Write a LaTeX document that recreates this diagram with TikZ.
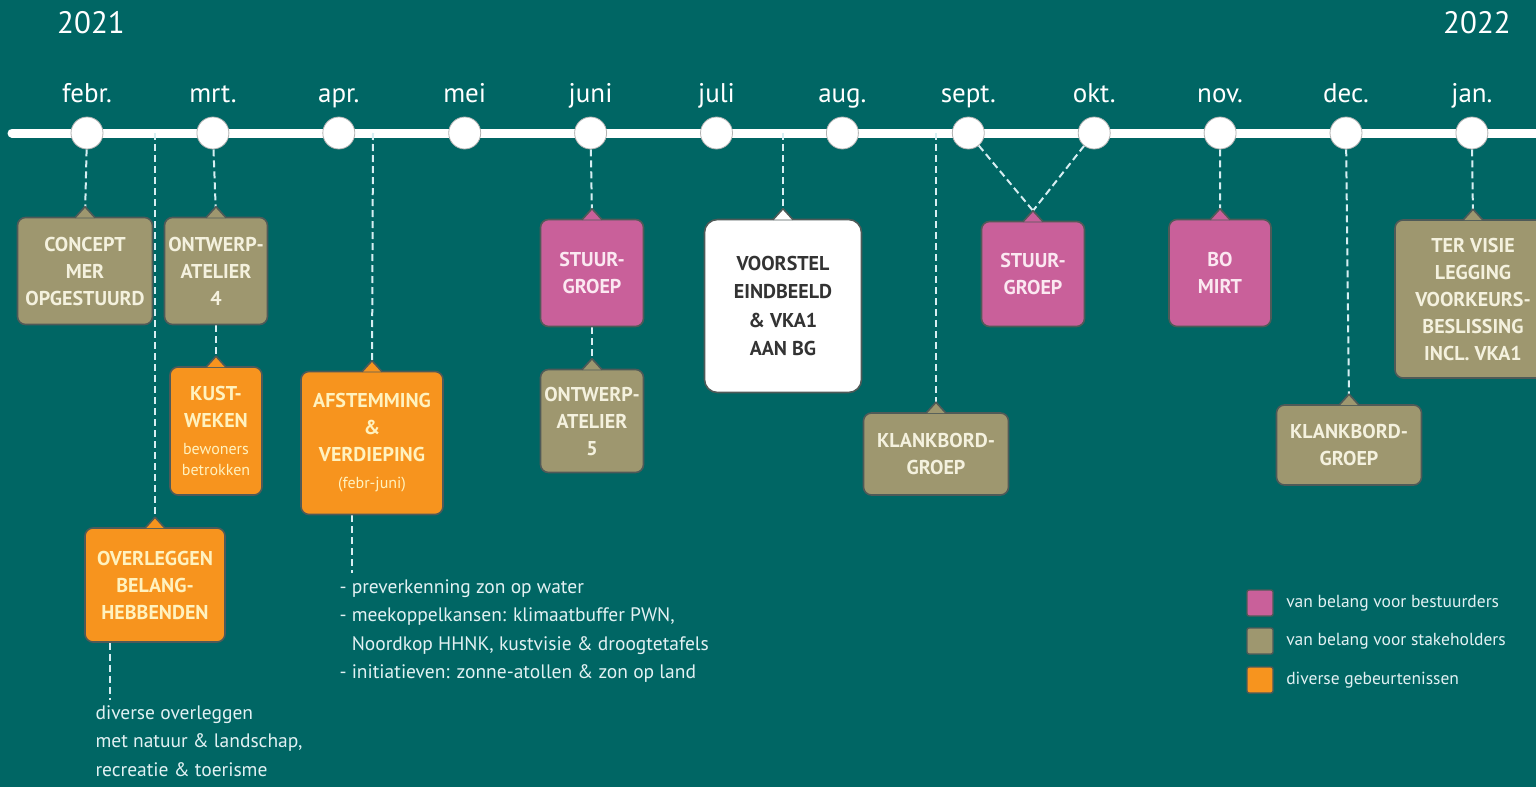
\documentclass[tikz,border=0pt]{standalone}
\usepackage{fontspec}
\setmainfont{PT Sans}
\usetikzlibrary{positioning,calc,backgrounds}
\definecolor{zeeteal}{HTML}{006664}
\definecolor{olijf}{HTML}{9E976F}
\definecolor{roze}{HTML}{C9609A}
\definecolor{oranje}{HTML}{F7941E}
\definecolor{vakrand}{HTML}{4F5A58}
\definecolor{streep}{HTML}{D6EEF2}
\definecolor{lichttekst}{HTML}{F4F1DE}
\definecolor{rozetekst}{HTML}{FBE8F1}
\definecolor{geeltekst}{HTML}{FFF2BF}
\definecolor{notitie}{HTML}{E2F1F3}
\tikzset{
  % tijdlijn
  tijdlijn/.style={draw=white,line width=9pt,line cap=round},
  mnd/.style={circle,fill=white,draw=black!30,line width=0.8pt,
              minimum size=32pt,inner sep=0pt},
  mlab/.style={anchor=base,text=white,font=\fontsize{27}{30}\selectfont},
  jaar/.style={anchor=base,text=white,font=\fontsize{31}{34}\selectfont},
  % vakken
  vak/.style={rounded corners=8pt,draw=vakrand,line width=1.6pt,align=center,
              inner sep=2pt,font=\bfseries\fontsize{20}{27}\selectfont},
  bestuur/.style={vak,fill=roze,text=rozetekst},
  stake/.style={vak,fill=olijf,text=lichttekst},
  divers/.style={vak,fill=oranje,text=geeltekst},
  stip/.style={draw=streep,line width=2pt,dash pattern=on 7pt off 4pt},
  noot/.style={anchor=north west,align=left,text=notitie,
               font=\fontsize{19.5}{28.5}\selectfont},
  lgvak/.style={draw=vakrand,line width=1.4pt,rounded corners=2pt,
                minimum size=26pt,inner sep=0pt},
  lgtxt/.style={anchor=west,text=notitie,font=\fontsize{17.5}{20}\selectfont},
}
% lipje bovenop een vak
\newcommand\lipje[2]{%
  \filldraw[fill=#2,draw=vakrand,line width=1.6pt,line join=round]
    ($(#1.north)+(-10,1)$) -- ($(#1.north)+(0,-10)$) -- ($(#1.north)+(10,1)$);}
\newcommand\klein[1]{{\mdseries\fontsize{16}{22}\selectfont #1}}

\begin{document}
\begin{tikzpicture}[x=1pt,y=-1pt]
  \useasboundingbox (0,0) rectangle (1536,787);
  \clip (0,0) rectangle (1536,787);

  \node[jaar] (j1) at (91,33) {2021};
  \node[jaar] (j2) at (1477,33) {2022};

  \coordinate (tl0) at (12,133);
  \coordinate (tl1) at (1540,133);

  \foreach \m [count=\i] in {febr.,mrt.,apr.,mei,juni,juli,aug.,sept.,okt.,nov.,dec.,jan.}{
    \node[mnd] (m\i) at ({87+125.9*(\i-1)},133) {};
    \node[mlab] (l\i) at ({87+125.9*(\i-1)},102) {\m};
  }

  % vakken
  \node[stake,minimum width=135pt,minimum height=107pt] (concept) at (85,271) {CONCEPT\\MER\\OPGESTUURD};
  \node[stake,minimum width=103pt,minimum height=107pt] (atelier4) at (216,271) {ONTWERP-\\ATELIER\\4};
  \node[divers,minimum width=92pt,minimum height=128pt] (kust) at (216,431) {KUST-\\WEKEN\\\klein{bewoners}\\[-6pt]\klein{betrokken}};
  \node[divers,minimum width=140pt,minimum height=114pt] (overleg) at (155,585) {OVERLEGGEN\\BELANG-\\HEBBENDEN};
  \node[divers,minimum width=142pt,minimum height=143pt] (afstem) at (372,443) {AFSTEMMING\\\&\\VERDIEPING\\\klein{(febr-juni)}};
  \node[bestuur,minimum width=103pt,minimum height=107pt] (stuur1) at (592,273) {STUUR-\\GROEP};
  \node[stake,minimum width=103pt,minimum height=103pt] (atelier5) at (592,421) {ONTWERP-\\ATELIER\\5};
  \node[vak,fill=white,text=black!80,rounded corners=13pt,minimum width=157pt,minimum height=173pt,
        font=\bfseries\fontsize{20}{28.5}\selectfont] (voorstel) at (783,306) {VOORSTEL\\EINDBEELD\\\& VKA1\\AAN BG};
  \node[stake,minimum width=145pt,minimum height=82pt] (klank1) at (936,454) {KLANKBORD-\\GROEP};
  \node[bestuur,minimum width=103pt,minimum height=105pt] (stuur2) at (1033,274) {STUUR-\\GROEP};
  \node[bestuur,minimum width=102pt,minimum height=107pt] (bomirt) at (1220,273) {BO\\MIRT};
  \node[stake,minimum width=145pt,minimum height=80pt] (klank2) at (1349,445) {KLANKBORD-\\GROEP};
  \node[stake,minimum width=156pt,minimum height=158pt] (tervisie) at (1473,299) {TER VISIE\\LEGGING\\VOORKEURS-\\BESLISSING\\INCL. VKA1};

  \foreach \n/\c in {concept/olijf,atelier4/olijf,kust/oranje,overleg/oranje,afstem/oranje,
                     stuur1/roze,atelier5/olijf,voorstel/white,klank1/olijf,stuur2/roze,
                     bomirt/roze,klank2/olijf,tervisie/olijf}
    \lipje{\n}{\c};

  % stippellijnen
  \coordinate (c1) at (155,133);
  \coordinate (c2) at (373,133);
  \coordinate (c3) at (783,133);
  \coordinate (c4) at (936,133);
  \coordinate (ovl) at (110,700);
  \coordinate (afs) at (352,573);
  \begin{scope}[on background layer]
  \fill[zeeteal] (0,0) rectangle (1536,787);
  \draw[tijdlijn] (tl0) -- (tl1);
  \draw[stip] (m1) -- (concept.north);
  \draw[stip] (m2) -- (atelier4.north);
  \draw[stip] (atelier4.south) -- (kust.north);
  \draw[stip] (c1) -- (overleg.north);
  \draw[stip] (overleg.south -| ovl) -- (ovl);
  \draw[stip] (c2) -- (afstem.north);
  \draw[stip] (afstem.south -| afs) -- (afs);
  \draw[stip] (m5) -- (stuur1.north);
  \draw[stip] (stuur1.south) -- (atelier5.north);
  \draw[stip] (c3) -- (voorstel.north);
  \draw[stip] (c4) -- (klank1.north);
  \draw[stip] (m8) -- ($(stuur2.north)+(0,-10)$);
  \draw[stip] (m9) -- ($(stuur2.north)+(0,-10)$);
  \draw[stip] (m10) -- (bomirt.north);
  \draw[stip] (m11) -- (klank2.north);
  \draw[stip] (m12) -- (tervisie.north);
  \end{scope}

  % toelichting
  \node[noot] (ovltxt) at (92,702) {diverse overleggen\\met natuur \& landschap,\\recreatie \& toerisme};
  \node[noot] (afstxt) at (336,576) {- preverkenning zon op water\\- meekoppelkansen: klimaatbuffer PWN,\\\phantom{- }Noordkop HHNK, kustvisie \& droogtetafels\\- initiatieven: zonne-atollen \& zon op land};

  % legenda
  \node[lgvak,fill=roze] (lg1) at (1260,603) {};
  \node[lgvak,fill=olijf] (lg2) at (1260,641) {};
  \node[lgvak,fill=oranje] (lg3) at (1260,680) {};
  \node[lgtxt,right=9pt of lg1] (lt1) {van belang voor bestuurders};
  \node[lgtxt,right=9pt of lg2] (lt2) {van belang voor stakeholders};
  \node[lgtxt,right=9pt of lg3] (lt3) {diverse gebeurtenissen};
\end{tikzpicture}
\end{document}
